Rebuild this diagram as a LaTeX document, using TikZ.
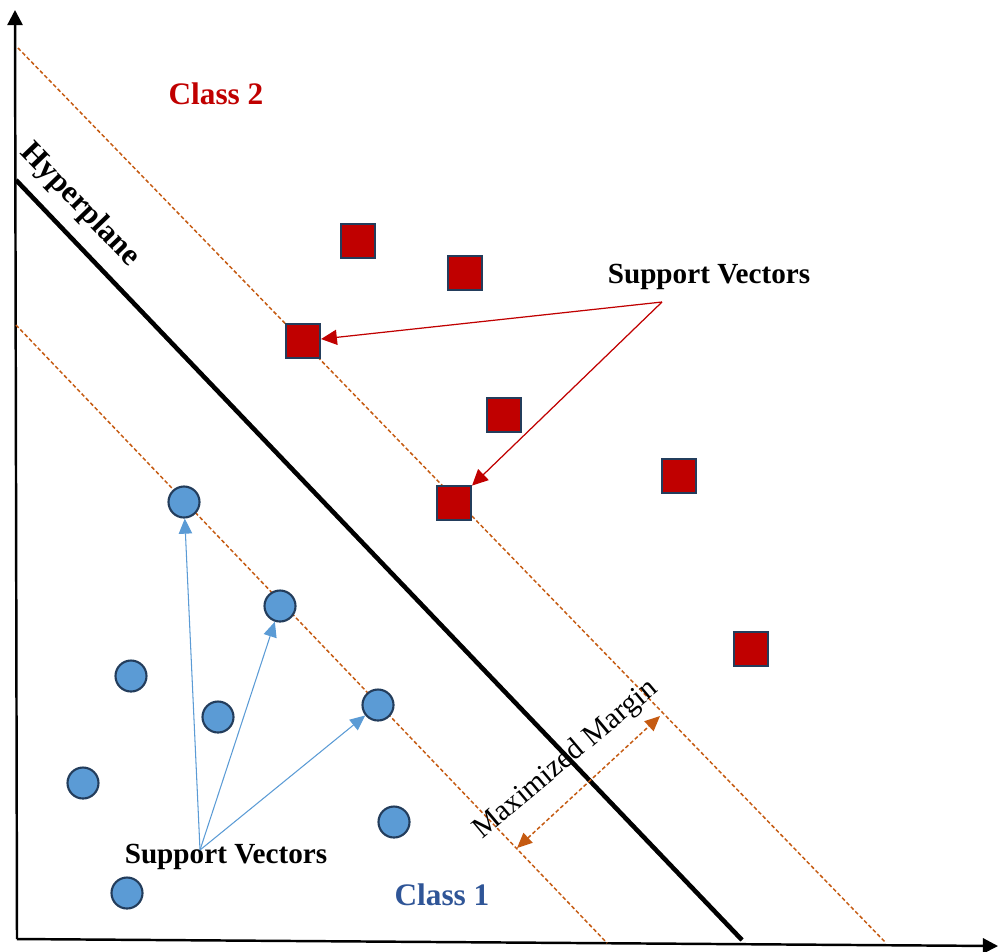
\documentclass[tikz,border=0pt]{standalone}
\usepackage{fontspec}
\setmainfont{Liberation Serif}
\usetikzlibrary{arrows.meta,positioning}

\definecolor{classred}{HTML}{C00000}
\definecolor{classblue}{HTML}{5B9BD5}
\definecolor{pointedge}{HTML}{233D5C}
\definecolor{marginorange}{HTML}{C55A11}
\definecolor{labelblue}{HTML}{2F5597}

\tikzset{
  redpoint/.style={draw=pointedge, line width=0.6pt, fill=classred, minimum size=0.34cm, inner sep=0pt},
  bluepoint/.style={circle, draw=pointedge, line width=0.6pt, fill=classblue, minimum size=0.31cm, inner sep=0pt},
  marginline/.style={draw=marginorange, line width=0.42pt, dash pattern=on 1.1pt off 0.7pt},
  marginarrow/.style={draw=marginorange, line width=0.42pt, dash pattern=on 1.1pt off 0.7pt,
    {Triangle[length=4.3pt,width=3.8pt,fill=marginorange]}-{Triangle[length=4.3pt,width=3.8pt,fill=marginorange]}},
  axisline/.style={line width=0.7pt, -{Triangle[length=4.3pt,width=4.3pt]}},
  redarrow/.style={draw=classred, line width=0.35pt, -{Triangle[length=4.5pt,width=4.3pt]}},
  bluearrow/.style={draw=classblue, line width=0.3pt, -{Triangle[length=4.3pt,width=3.8pt]}},
  svlabel/.style={font=\bfseries\fontsize{8.3}{10}\selectfont},
  classlabel/.style={font=\bfseries\fontsize{8.9}{10}\selectfont},
}

\begin{document}
\begin{tikzpicture}[x=0.01cm,y=-0.01cm]
    \useasboundingbox (0,0) rectangle (998,951);

    % axes
    \coordinate (origin) at (17,939);
    \coordinate (y_top) at (15,10);
    \coordinate (x_right) at (998,946);
    \draw[axisline] (origin) -- (y_top);
    \draw[axisline] (origin) -- (x_right);

    % margins and hyperplane
    \coordinate (upper_start) at (18,48);
    \coordinate (upper_end) at (886,943);
    \coordinate (lower_start) at (16,325);
    \coordinate (lower_end) at (607,943);
    \coordinate (hyper_start) at (16,180);
    \coordinate (hyper_end) at (742,940);
    \draw[marginline] (upper_start) -- (upper_end);
    \draw[marginline] (lower_start) -- (lower_end);
    \draw[line width=1.3pt] (hyper_start) -- (hyper_end);

    % class 2 points
    \node[redpoint] (sq_1) at (358,241) {};
    \node[redpoint] (sq_2) at (465,273) {};
    \node[redpoint] (sq_3) at (303,341) {};
    \node[redpoint] (sq_4) at (504,415) {};
    \node[redpoint] (sq_5) at (454,503) {};
    \node[redpoint] (sq_6) at (679,476) {};
    \node[redpoint] (sq_7) at (751,649) {};

    % class 1 points
    \node[bluepoint] (dot_1) at (184,502) {};
    \node[bluepoint] (dot_2) at (280,606) {};
    \node[bluepoint] (dot_3) at (131,676) {};
    \node[bluepoint] (dot_4) at (218,717) {};
    \node[bluepoint] (dot_5) at (378,705) {};
    \node[bluepoint] (dot_6) at (83,783) {};
    \node[bluepoint] (dot_7) at (394,822) {};
    \node[bluepoint] (dot_8) at (127,893) {};

    % labels
    \node[classlabel, text=classred] (class_2) at (216,94) {Class 2};
    \node[classlabel, text=labelblue] (class_1) at (442,895) {Class 1};
    \node[svlabel] (sv_upper) at (709,277) {Support Vectors};
    \node[svlabel] (sv_lower) at (226,857) {Support Vectors};
    \node[classlabel, rotate=-46] (hyperplane) at (80,205) {Hyperplane};
    \node[font=\fontsize{8.5}{10}\selectfont, rotate=40] (margin_label) at (566,760) {Maximized Margin};

    % support vector arrows
    \coordinate (sv_upper_tip) at (662,302);
    \coordinate (sv_lower_tip) at (200,850);
    \draw[redarrow] (sv_upper_tip) -- (sq_3);
    \draw[redarrow] (sv_upper_tip) -- (sq_5);
    \draw[bluearrow] (sv_lower_tip) -- (dot_1);
    \draw[bluearrow] (sv_lower_tip) -- (dot_2);
    \draw[bluearrow] (sv_lower_tip) -- (dot_5);

    % margin width
    \coordinate (margin_a) at (517,848);
    \coordinate (margin_b) at (660,716);
    \draw[marginarrow] (margin_a) -- (margin_b);
\end{tikzpicture}
\end{document}
